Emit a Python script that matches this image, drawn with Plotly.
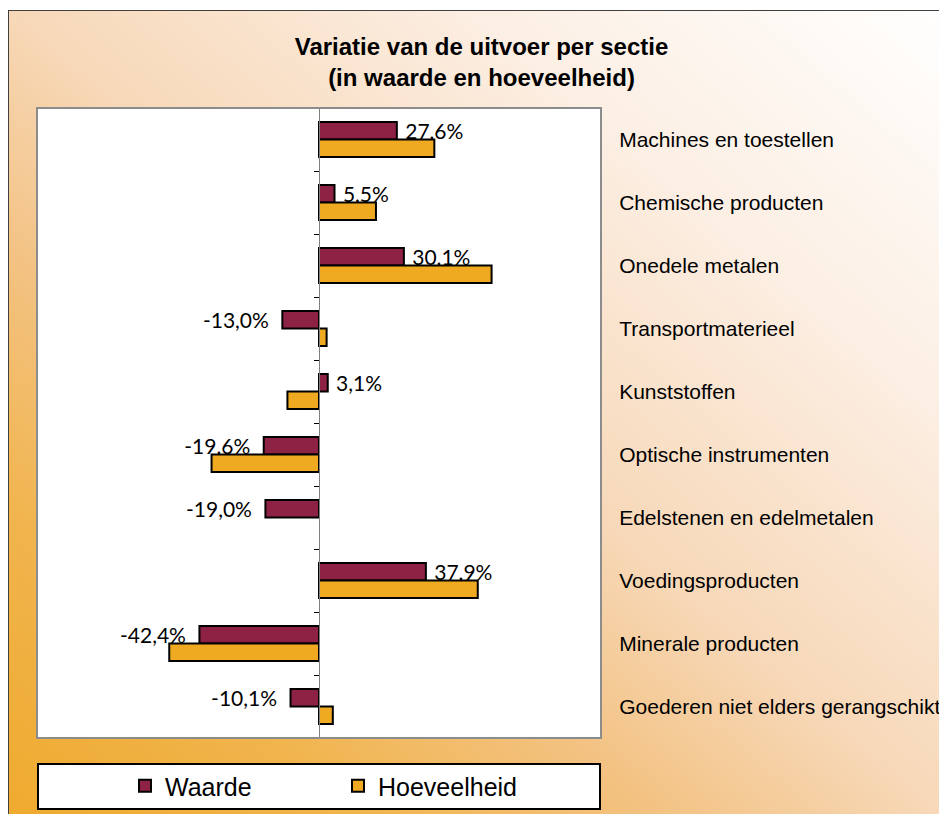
import base64

import plotly.graph_objects as go

categories = [
    "Machines en toestellen",
    "Chemische producten",
    "Onedele metalen",
    "Transportmaterieel",
    "Kunststoffen",
    "Optische instrumenten",
    "Edelstenen en edelmetalen",
    "Voedingsproducten",
    "Minerale producten",
    "Goederen niet elders gerangschikt",
]
waarde = [27.6, 5.5, 30.1, -13.0, 3.1, -19.6, -19.0, 37.9, -42.4, -10.1]
hoeveelheid = [40.9, 20.2, 61.2, 2.7, -11.2, -38.1, None, 56.3, -53.1, 4.9]

waarde_labels = []
for v in waarde:
    s = f"{v:.1f}".replace(".", ",") + "%"
    waarde_labels.append("\u00a0" + s if v >= 0 else s + "\u2002")

# achtergrond: diagonaal verloop oranje -> wit
svg = """<svg xmlns="http://www.w3.org/2000/svg" viewBox="0 0 100 100" preserveAspectRatio="none">
<defs><linearGradient id="g" x1="0" y1="1" x2="1" y2="0">
<stop offset="0" stop-color="#EFAA2D"/>
<stop offset="0.2" stop-color="#F1B54F"/>
<stop offset="0.35" stop-color="#F3C282"/>
<stop offset="0.5" stop-color="#F7D8B8"/>
<stop offset="0.75" stop-color="#FCEFE4"/>
<stop offset="1" stop-color="#FFFFFF"/>
</linearGradient></defs>
<rect width="100" height="100" fill="url(#g)"/></svg>"""
bg_src = "data:image/svg+xml;base64," + base64.b64encode(svg.encode()).decode()

W, H = 947, 814
OFF = 8  # de pagina zet de figuur 8px naar rechts en omlaag
# tekengebied in schermpixels
L, R, T, B = 37, 601, 108, 738
pw, ph = R - L, B - T


def px(x):
    return (x - L) / pw


def py(y):
    return (B - y) / ph


fig = go.Figure()
fig.add_trace(go.Bar(
    name="Waarde", y=categories, x=waarde, orientation="h",
    marker=dict(color="#8E2245", line=dict(color="black", width=2)),
    text=waarde_labels, textposition="outside", cliponaxis=False,
    constraintext="none",
    textfont=dict(family="Lato", size=21, color="black"),
))
fig.add_trace(go.Bar(
    name="Hoeveelheid", y=categories, x=hoeveelheid, orientation="h",
    marker=dict(color="#F0AA22", line=dict(color="black", width=2)),
))

fig.update_layout(
    width=W, height=H,
    margin=dict(l=L - OFF, r=W - (R - OFF), t=T - OFF, b=H - (B - OFF),
                autoexpand=False),
    paper_bgcolor="white", plot_bgcolor="white",
    barmode="group", bargap=0.444, bargroupgap=0,
    title=dict(
        text="Variatie van de uitvoer per sectie<br>(in waarde en hoeveelheid)",
        x=0.5, xref="container", xanchor="center",
        y=1 - 47 / H, yref="container", yanchor="top",
        font=dict(family="Liberation Sans, Arial", size=24, color="black",
                  weight="bold"),
    ),
    xaxis=dict(range=[-100, 100], showticklabels=False, showgrid=False,
               zeroline=False, showline=False, ticks=""),
    yaxis=dict(
        type="category", categoryorder="array", categoryarray=categories,
        autorange="reversed", anchor="free", position=0.5, side="right",
        showline=True, linecolor="#808080", linewidth=1,
        ticks="inside", ticklen=5, tickcolor="black", tickson="boundaries",
        ticklabelstandoff=295, showgrid=False,
        tickfont=dict(family="Liberation Sans, Arial", size=21, color="black"),
    ),
    legend=dict(
        orientation="h", x=px(125), xanchor="left", y=py(786), yanchor="middle",
        bgcolor="rgba(0,0,0,0)", borderwidth=0, itemwidth=30,
        entrywidth=168, traceorder="normal",
        font=dict(family="Liberation Sans, Arial", size=25, color="black"),
    ),
    images=[dict(
        source=bg_src, xref="paper", yref="paper",
        x=px(8), y=py(10), sizex=(960 - 8) / pw, sizey=(830 - 10) / ph,
        xanchor="left", yanchor="top", sizing="stretch", layer="below",
    )],
    shapes=[
        # wit tekengebied boven het verloop
        dict(type="rect", xref="paper", yref="paper", x0=0, x1=1, y0=0, y1=1,
             fillcolor="white", line=dict(width=0), layer="below"),
        # rand van het diagram
        dict(type="line", xref="paper", yref="paper", x0=px(8), x1=px(960),
             y0=py(10.5), y1=py(10.5), line=dict(color="#404040", width=1)),
        dict(type="line", xref="paper", yref="paper", x0=px(8.5), x1=px(8.5),
             y0=py(10), y1=py(830), line=dict(color="#404040", width=1)),
        # kader tekengebied
        dict(type="rect", xref="paper", yref="paper", x0=0, x1=1, y0=0, y1=1,
             line=dict(color="#8C8C8C", width=2), layer="above"),
        # kader legenda
        dict(type="rect", xref="paper", yref="paper", x0=px(38), x1=px(600),
             y0=py(764), y1=py(809), fillcolor="white",
             line=dict(color="black", width=2), layer="above"),
    ],
)

fig.write_html("out.html")
